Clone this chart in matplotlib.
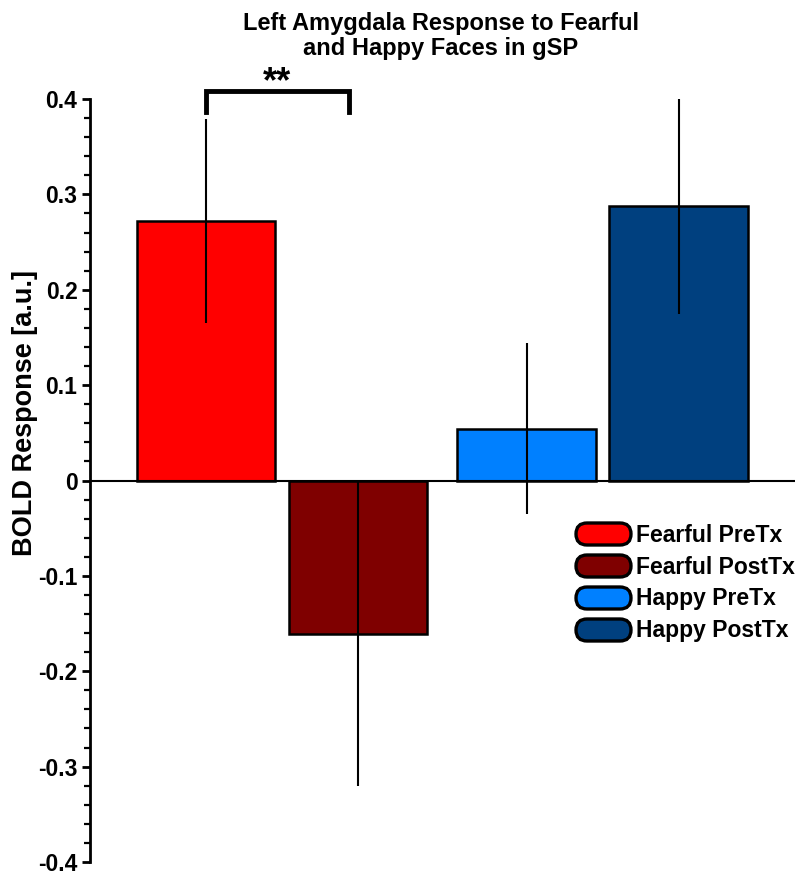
import matplotlib
matplotlib.use("Agg")
import matplotlib.pyplot as plt
from matplotlib.patches import FancyBboxPatch
from matplotlib.ticker import MultipleLocator

plt.rcParams['font.family'] = ['Liberation Sans', 'DejaVu Sans']
plt.rcParams['font.weight'] = 'bold'

# data
labels = ['Fearful PreTx', 'Fearful PostTx', 'Happy PreTx', 'Happy PostTx']
values = [0.272, -0.161, 0.0545, 0.288]
errors = [0.107, 0.159, 0.090, 0.113]
colors = ['#FF0000', '#7F0000', '#0080FF', '#00407F']
xpos = [0, 1, 2.11, 3.11]
yticks = [-0.4, -0.3, -0.2, -0.1, 0, 0.1, 0.2, 0.3, 0.4]
ytick_labels = ['-0.4', '-0.3', '-0.2', '-0.1', '0', '0.1', '0.2', '0.3', '0.4']

fig = plt.figure(figsize=(8.01, 8.75), dpi=100)
ax = fig.add_axes([90 / 801, 13 / 875, (795 - 90) / 801, (862 - 99) / 875])

ax.bar(xpos, values, width=0.914, color=colors, edgecolor='black', linewidth=1.8, zorder=2)
ax.errorbar(xpos, values, yerr=errors, fmt='none', ecolor='black', elinewidth=1.5,
            capsize=0, zorder=3)

ax.set_xlim(-0.763, 3.875)
ax.set_ylim(-0.4, 0.4)
ax.axhline(0, color='black', linewidth=1.5, zorder=4)

for s in ['top', 'right', 'bottom']:
    ax.spines[s].set_visible(False)
ax.spines['left'].set_linewidth(2)
ax.set_xticks([])
ax.set_yticks(yticks)
ax.set_yticklabels(ytick_labels, fontweight='bold')
ax.yaxis.set_minor_locator(MultipleLocator(0.02))
ax.tick_params(axis='y', which='major', length=6, width=2, labelsize=16.5, pad=3)
ax.tick_params(axis='y', which='minor', length=4, width=1.6)
ax.set_ylabel('BOLD Response [a.u.]', fontsize=19.5, fontweight='bold')
ax.yaxis.set_label_coords(-0.074, 0.589)

# significance bracket
ax.plot([0, 0, 0.94, 0.94], [0.386, 0.408, 0.408, 0.386], color='black', linewidth=3.5,
        solid_joinstyle='miter', clip_on=False)
ax.text(0.47, 0.399, '**', ha='center', va='bottom', fontsize=26, fontweight='bold')

fig.text(441 / 801, 1 - 12 / 875, 'Left Amygdala Response to Fearful\nand Happy Faces in gSP',
         ha='center', va='top', fontsize=17, fontweight='bold', linespacing=1.12)

# legend with pill shaped swatches, drawn in pixel space
lax = fig.add_axes([0, 0, 1, 1])
lax.set_xlim(0, 801)
lax.set_ylim(875, 0)
lax.axis('off')
for i, (lab, c) in enumerate(zip(labels, colors)):
    yc = 534 + 32 * i
    lax.add_patch(FancyBboxPatch((576, yc - 11), 55, 22,
                                 boxstyle='round,pad=0,rounding_size=11',
                                 facecolor=c, edgecolor='black', linewidth=2.4))
    lax.text(636, yc + 1, lab, va='center', ha='left', fontsize=16.5, fontweight='bold')

fig.savefig('out.png', dpi=100)
